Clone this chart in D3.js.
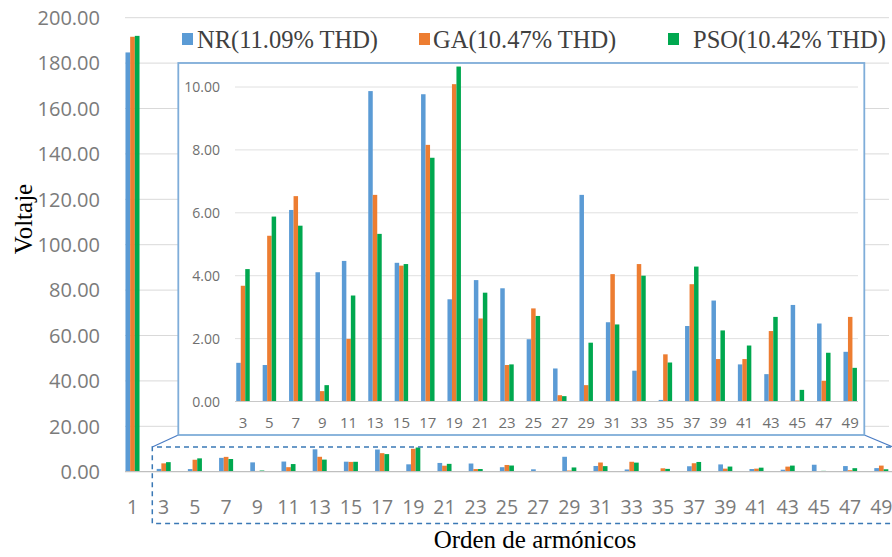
<!DOCTYPE html>
<html><head><meta charset="utf-8">
<script src="https://cdn.jsdelivr.net/npm/d3@7/dist/d3.min.js"></script>
<style>html,body{margin:0;padding:0;background:#fff;}svg{display:block;}</style>
</head><body>
<svg id="chart" width="892" height="557"></svg>
<script>
const categories = [1,3,5,7,9,11,13,15,17,19,21,23,25,27,29,31,33,35,37,39,41,43,45,47,49];
const seriesNames = ["NR(11.09% THD)","GA(10.47% THD)","PSO(10.42% THD)"];
const nrValues  = [184.7,1.23,1.16,6.09,4.11,4.47,9.87,4.41,9.77,3.25,3.86,3.60,1.98,1.05,6.57,2.52,0.98,0.05,2.40,3.21,1.18,0.87,3.07,2.48,1.58];
const gaValues  = [191.6,3.68,5.27,6.53,0.33,1.99,6.57,4.32,8.16,10.09,2.64,1.16,2.96,0.20,0.52,4.05,4.37,1.50,3.73,1.35,1.35,2.24,0.03,0.66,2.69];
const psoValues = [192.0,4.21,5.88,5.59,0.52,3.37,5.33,4.37,7.75,10.65,3.46,1.18,2.72,0.17,1.87,2.45,4.00,1.24,4.29,2.26,1.78,2.69,0.37,1.55,1.07];
const mainYTicks = [0,20,40,60,80,100,120,140,160,180,200];
const insetYTicks = [0,2,4,6,8,10];
const colors = ["#5b9bd5","#ed7d31","#00a84f"];
const yTitle = "Voltaje";
const xTitle = "Orden de armónicos";

const svg = d3.select("#chart");
const series = [nrValues, gaValues, psoValues];
const rows = categories.map((c,i)=>({cat:c, vals: series.map(s=>s[i])}));
const sans = "'Open Sans', sans-serif";
const serif = "'Liberation Serif', 'Times New Roman', serif";
const gray = "#7b7b7b";

// ---------- main chart ----------
const x = d3.scaleBand().domain(categories).range([116.9, 896.9]).paddingInner(0.55).paddingOuter(0.275);
const xs = d3.scaleBand().domain([0,1,2]).range([0, x.bandwidth()]);
const y = d3.scaleLinear().domain([0,200]).range([471.7, 17.7]);
const gL = 125, gR = 889;

svg.append("g").selectAll("line").data(mainYTicks.filter(t=>t>0)).join("line")
  .attr("x1", gL).attr("x2", gR).attr("y1", d=>y(d)).attr("y2", d=>y(d))
  .attr("stroke", "#d9d9d9").attr("stroke-width", 1);

svg.append("g").selectAll("text").data(mainYTicks).join("text")
  .attr("x", 100).attr("y", d=>y(d)).attr("dy", "0.36em")
  .attr("text-anchor", "end").attr("font-family", sans).attr("font-size", 20)
  .attr("fill", gray).text(d=>d.toFixed(2));

const mg = svg.append("g").selectAll("g").data(rows).join("g")
  .attr("transform", d=>`translate(${x(d.cat)},0)`);
mg.selectAll("rect").data(d=>d.vals.map((v,k)=>({v,k}))).join("rect")
  .attr("x", d=>xs(d.k)).attr("width", xs.bandwidth())
  .attr("y", d=>y(d.v)).attr("height", d=>y(0)-y(d.v))
  .attr("fill", d=>colors[d.k]);

svg.append("line").attr("x1", gL).attr("x2", 892).attr("y1", y(0)).attr("y2", y(0))
  .attr("stroke", "#bfbfbf").attr("stroke-width", 1.2);

svg.append("g").selectAll("text").data(categories).join("text")
  .attr("x", d=>x(d)+x.bandwidth()/2).attr("y", 514)
  .attr("text-anchor", "middle").attr("font-family", sans).attr("font-size", 19.5)
  .attr("fill", gray).text(d=>d);

// dashed selection box
svg.append("path").attr("d", "M900,447 H152.3 V523.5 H900")
  .attr("fill", "none").attr("stroke", "#3a78b5").attr("stroke-width", 1.5)
  .attr("stroke-dasharray", "5,4");

// connector lines
svg.append("line").attr("x1", 178.3).attr("y1", 435).attr("x2", 152.3).attr("y2", 447)
  .attr("stroke", "#4a7cc4").attr("stroke-width", 1.2);
svg.append("line").attr("x1", 864.3).attr("y1", 435).attr("x2", 893).attr("y2", 447)
  .attr("stroke", "#4a7cc4").attr("stroke-width", 1.2);

// ---------- inset ----------
svg.append("rect").attr("x", 178.3).attr("y", 63).attr("width", 686).attr("height", 372)
  .attr("fill", "#fff").attr("stroke", "#7fadd9").attr("stroke-width", 1.8);

const insetCats = categories.slice(1);
const insetRows = rows.slice(1);
const xi = d3.scaleBand().domain(insetCats).range([229.8, 863.4]).paddingInner(0.49).paddingOuter(0.245);
const xis = d3.scaleBand().domain([0,1,2]).range([0, xi.bandwidth()]);
const yi = d3.scaleLinear().domain([0,10]).range([401.5, 87]);

svg.append("g").selectAll("line").data(insetYTicks.filter(t=>t>0)).join("line")
  .attr("x1", 235).attr("x2", 858).attr("y1", d=>yi(d)).attr("y2", d=>yi(d))
  .attr("stroke", "#e0e0e0").attr("stroke-width", 1);

svg.append("g").selectAll("text").data(insetYTicks).join("text")
  .attr("x", 220).attr("y", d=>yi(d)).attr("dy", "0.36em")
  .attr("text-anchor", "end").attr("font-family", sans).attr("font-size", 14)
  .attr("fill", "#6f6f6f").text(d=>d.toFixed(2));

const ig = svg.append("g").selectAll("g").data(insetRows).join("g")
  .attr("transform", d=>`translate(${xi(d.cat)},0)`);
ig.selectAll("rect").data(d=>d.vals.map((v,k)=>({v,k}))).join("rect")
  .attr("x", d=>xis(d.k)).attr("width", xis.bandwidth())
  .attr("y", d=>yi(d.v)).attr("height", d=>yi(0)-yi(d.v))
  .attr("fill", d=>colors[d.k]);

svg.append("line").attr("x1", 235).attr("x2", 858).attr("y1", yi(0)).attr("y2", yi(0))
  .attr("stroke", "#c8c8c8").attr("stroke-width", 1);

svg.append("g").selectAll("text").data(insetCats).join("text")
  .attr("x", d=>xi(d)+xi.bandwidth()/2).attr("y", 428)
  .attr("text-anchor", "middle").attr("font-family", sans).attr("font-size", 15)
  .attr("fill", "#6f6f6f").text(d=>d);

// ---------- legend ----------
const legendPos = [{sq:182, tx:197},{sq:419, tx:433},{sq:668, tx:693}];
const lg = svg.append("g").selectAll("g").data(seriesNames).join("g");
lg.append("rect").attr("x", (d,i)=>legendPos[i].sq).attr("y", 33).attr("width", 11).attr("height", 12)
  .attr("fill", (d,i)=>colors[i]);
lg.append("text").attr("x", (d,i)=>legendPos[i].tx).attr("y", 48)
  .attr("font-family", serif).attr("font-size", 24.5).attr("fill", "#404040").text(d=>d);

// ---------- titles ----------
svg.append("text").attr("transform", "translate(32,219) rotate(-90)")
  .attr("text-anchor", "middle").attr("font-family", serif).attr("font-size", 25)
  .attr("fill", "#000").text(yTitle);
svg.append("text").attr("x", 535).attr("y", 548)
  .attr("text-anchor", "middle").attr("font-family", serif).attr("font-size", 25)
  .attr("fill", "#000").text(xTitle);
</script>
</body></html>
